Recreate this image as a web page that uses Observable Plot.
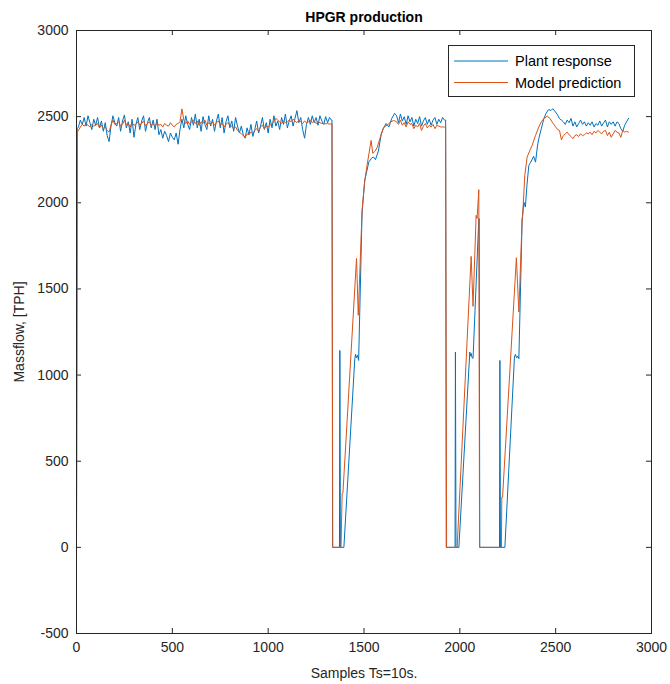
<!DOCTYPE html>
<html><head><meta charset="utf-8">
<script src="https://cdn.jsdelivr.net/npm/d3@7"></script>
<script src="https://cdn.jsdelivr.net/npm/@observablehq/plot@0.6"></script>
<style>body{margin:0;background:#fff;} #chart{position:relative;width:670px;height:684px;}</style>
</head><body><div id="chart"></div>
<script>
// ---- data ----
const title = "HPGR production";
const xLabel = "Samples Ts=10s.";
const yLabel = "Massflow, [TPH]";
const seriesNames = ["Plant response", "Model prediction"];
const xTicks = [0, 500, 1000, 1500, 2000, 2500, 3000];
const yTicks = [-500, 0, 500, 1000, 1500, 2000, 2500, 3000];
const sampleStep = 10;

// start-up
const plantRise = [[0, 0], [4, 2430]];
const modelRise = [[0, 0], [4, 2410]];

// steady section 1, samples 10..1330 every 10
const plantSeg1 = [
 2440,2480,2455,2495,2445,2505,2465,2425,2485,2450,
 2495,2435,2475,2415,2465,2390,2355,2445,2505,2465,
 2445,2495,2415,2475,2510,2435,2470,2405,2485,2380,
 2455,2495,2425,2475,2505,2415,2465,2495,2435,2480,
 2425,2485,2395,2425,2375,2415,2390,2355,2405,2380,
 2365,2405,2340,2425,2485,2435,2505,2455,2425,2495,
 2450,2515,2435,2485,2415,2500,2455,2425,2505,2445,
 2485,2415,2475,2515,2435,2495,2405,2470,2505,2435,
 2475,2415,2495,2445,2405,2445,2395,2375,2435,2395,
 2455,2385,2425,2475,2405,2445,2495,2425,2465,2405,
 2485,2435,2505,2445,2475,2425,2495,2455,2515,2435,
 2475,2505,2445,2490,2535,2465,2495,2425,2375,2455,
 2495,2455,2505,2465,2495,2450,2505,2475,2455,2500,
 2465,2495,2480];
const modelSeg1 = [
 2420,2440,2455,2445,2460,2450,2440,2455,2445,2450,
 2460,2435,2450,2430,2440,2420,2410,2450,2480,2455,
 2460,2470,2445,2455,2480,2450,2460,2440,2465,2450,
 2455,2470,2450,2460,2475,2445,2460,2470,2450,2460,
 2445,2465,2450,2455,2440,2460,2450,2445,2465,2450,
 2440,2455,2460,2470,2545,2480,2460,2475,2455,2470,
 2480,2460,2475,2450,2470,2460,2480,2450,2465,2455,
 2470,2450,2465,2475,2455,2460,2440,2455,2465,2450,
 2445,2430,2440,2420,2410,2400,2390,2380,2400,2395,
 2410,2400,2420,2430,2415,2440,2450,2430,2445,2440,
 2450,2460,2470,2490,2480,2470,2460,2475,2465,2470,
 2480,2470,2485,2475,2465,2480,2470,2460,2475,2465,
 2470,2480,2465,2475,2460,2470,2465,2460,2460,2458,
 2460,2457,2458];

// first stop and restart
const plantDrop1 = [[1333,2480],[1336,0],[1372,0],[1374,1143],[1377,0],[1395,0],[1452,1095],[1456,1120],[1460,1100],[1466,1115],[1472,1085],[1490,1945],[1504,2130],[1525,2236],[1540,2260],[1551,2265],[1560,2250],[1575,2300],[1590,2400],[1600,2430],[1615,2460],[1630,2440],[1645,2490],[1660,2519]];
const modelDrop1 = [[1333,2458],[1337,0],[1380,0],[1386,313],[1390,315],[1461,1677],[1470,1347],[1490,1956],[1503,2119],[1516,2217],[1537,2362],[1546,2287],[1558,2300],[1569,2322],[1585,2380],[1603,2438],[1620,2450],[1640,2470],[1655,2478]];

// steady section 2, samples 1670..1920 every 10
const plantSeg2 = [2505,2465,2515,2475,2500,2455,2505,2470,2495,2445,2485,2460,2500,2445,2475,2495,2455,2485,2450,2480,2495,2455,2485,2465,2495,2480];
const modelSeg2 = [2470,2455,2480,2450,2465,2440,2470,2455,2460,2430,2450,2440,2460,2420,2445,2460,2435,2450,2440,2455,2430,2450,2445,2440,2440,2440];

// second and third stops and restart
const plantDrop2 = [[1926,2480],[1929,0],[1975,0],[1977,1134],[1980,0],[1995,0],[2052,1134],[2056,1110],[2060,1125],[2064,1100],[2069,1097],[2099,1908],[2101,1908],[2104,0],[2207,0],[2209,1085],[2212,0],[2235,0],[2285,1105],[2290,1120],[2296,1100],[2302,1110],[2308,1095],[2325,1898],[2334,2004],[2342,1975],[2350,2100],[2360,2217],[2370,2236],[2385,2270],[2395,2236],[2405,2330],[2412,2372],[2425,2430],[2438,2488],[2450,2520],[2464,2542],[2475,2535],[2485,2546],[2499,2527],[2510,2510],[2520,2488]];
const modelDrop2 = [[1926,2440],[1931,0],[1986,0],[2059,1689],[2069,1399],[2085,1927],[2090,1909],[2099,2076],[2103,0],[2217,0],[2219,292],[2223,292],[2295,1681],[2308,1366],[2325,1908],[2328,1930],[2339,2159],[2351,2265],[2364,2300],[2377,2333],[2395,2391],[2412,2440],[2425,2470],[2438,2488],[2456,2503],[2470,2490],[2482,2468],[2500,2440],[2510,2425]];

// steady section 3
const plantSeg3 = [2480,2470,2455,2480,2465,2490,2445,2470,2440,2460,2480,2455,2470,2445,2465,2450,2470,2440,2460,2450,2475,2445,2465,2480,2440,2470,2455,2470,2445,2470,2460,2430,2415,2450,2470,2490]; // 2530..2880
const modelSeg3 = [2420,2365,2390,2400,2410,2395,2385,2372,2390,2395,2385,2400,2390,2395,2405,2400,2410,2395,2415,2405,2420,2410,2400,2415,2420,2390,2410,2380,2400,2420,2410,2405,2380,2420,2410,2415,2410]; // 2520..2880

// ---- build ----
const seg = (start, vals) => vals.map((v, i) => [start + i * sampleStep, v]);
const plant = [...plantRise, ...seg(10, plantSeg1), ...plantDrop1, ...seg(1670, plantSeg2), ...plantDrop2, ...seg(2530, plantSeg3)];
const model = [...modelRise, ...seg(10, modelSeg1), ...modelDrop1, ...seg(1670, modelSeg2), ...modelDrop2, ...seg(2520, modelSeg3)];

const colors = ["#0072BD", "#D95319"];
const ink = "#262626";
const font = "'Liberation Sans', Arial, Helvetica, sans-serif";
const plain = d => String(d);

const chart = Plot.plot({
  width: 670, height: 684,
  marginLeft: 76, marginRight: 19, marginTop: 30, marginBottom: 51,
  style: {fontFamily: font, fontSize: "14px", color: ink, background: "#fff"},
  x: {domain: [0, 3000]},
  y: {domain: [-500, 3000]},
  marks: [
    Plot.axisX(xTicks, {anchor: "bottom", tickSize: 0, tickPadding: 9, tickFormat: plain, fontSize: 14, label: xLabel, labelAnchor: "center", labelArrow: "none", labelOffset: 44}),
    Plot.axisY(yTicks, {anchor: "left", tickSize: 0, tickPadding: 8, tickFormat: plain, fontSize: 14, label: yLabel, labelAnchor: "center", labelArrow: "none", labelOffset: 62}),
    // inward ticks on all four sides (MATLAB box style)
    Plot.tickX(xTicks, {x: d => d, insetTop: 598, stroke: ink}),
    Plot.tickX(xTicks, {x: d => d, insetBottom: 598, stroke: ink}),
    Plot.tickY(yTicks, {y: d => d, insetRight: 570, stroke: ink}),
    Plot.tickY(yTicks, {y: d => d, insetLeft: 570, stroke: ink}),
    Plot.line(plant, {x: d => d[0], y: d => d[1], stroke: colors[0], strokeWidth: 1}),
    Plot.line(model, {x: d => d[0], y: d => d[1], stroke: colors[1], strokeWidth: 1}),
    Plot.frame({stroke: ink}),
    Plot.text([title], {text: d => d, frameAnchor: "top", lineAnchor: "middle", dy: -13, fontWeight: "bold", fontSize: 14, fill: "#000"})
  ]
});
document.getElementById("chart").appendChild(chart);

// legend (MATLAB-style box, top-right inside axes)
const svg = d3.select(chart);
const lg = svg.append("g").attr("font-family", font).attr("font-size", 14.5).attr("text-anchor", "start");
lg.append("rect").attr("x", 448.5).attr("y", 45.5).attr("width", 186).attr("height", 51).attr("fill", "#fff").attr("stroke", ink);
seriesNames.forEach((name, i) => {
  const y = 61 + i * 21.5;
  lg.append("line").attr("x1", 454).attr("x2", 508).attr("y1", y).attr("y2", y).attr("stroke", colors[i]).attr("stroke-width", 1);
  lg.append("text").attr("x", 515).attr("y", y).attr("dy", "0.35em").attr("fill", "#000").text(name);
});
</script>
</body></html>
